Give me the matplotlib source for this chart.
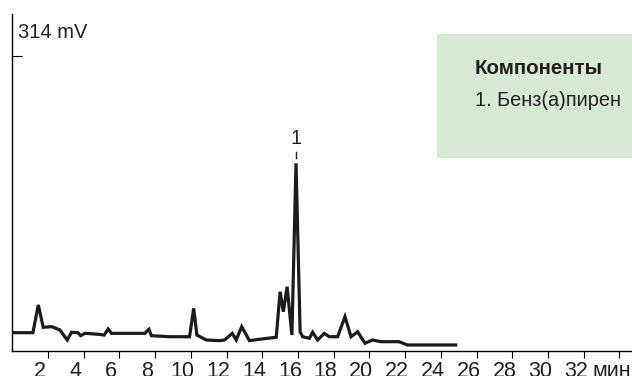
import matplotlib
matplotlib.use("Agg")
import matplotlib.pyplot as plt
from matplotlib.patches import Rectangle
from matplotlib.transforms import ScaledTranslation

plt.rcParams['font.family'] = ['Liberation Sans Narrow', 'Liberation Sans', 'DejaVu Sans']

# chromatogram trace: retention time (min) and detector signal (mV)
time_min = [0.0, 1.16, 1.46, 1.74, 2.21, 2.67, 3.08, 3.32, 3.68, 3.84, 4.07, 4.81,
            5.15, 5.37, 5.56, 6.02, 7.42, 7.66, 7.79, 8.82, 9.93, 10.16, 10.34,
            10.87, 11.61, 11.89, 12.32, 12.54, 12.85, 13.28, 13.84, 14.78, 15.00,
            15.18, 15.39, 15.66, 15.89, 16.12, 16.26, 16.64, 16.82, 17.10, 17.47,
            17.75, 18.22, 18.63, 18.97, 19.34, 19.75, 20.17, 20.64, 21.66, 22.13,
            24.83]
signal_mv = [19.5, 19.5, 49.0, 25.2, 25.9, 22.4, 11.7, 19.9, 19.5, 16.3, 18.8, 17.8,
             17.0, 23.4, 18.8, 18.8, 18.8, 23.1, 16.3, 15.2, 15.2, 45.4, 17.0,
             11.7, 11.0, 11.7, 18.8, 11.7, 25.9, 11.0, 12.5, 14.6, 63.1,
             41.8, 68.4, 17.0, 199.8, 20.5, 15.2, 13.5, 19.9, 11.7, 18.8,
             15.2, 15.2, 36.5, 15.2, 20.5, 8.2, 11.7, 9.9, 9.9, 6.4,
             6.4]

peak_labels = ["1"]
peak_times = [15.89]
peak_heights = [199.8]

x_ticks = list(range(2, 36, 2))
x_tick_labels = [str(t) for t in range(2, 34, 2)] + ["мин"]
y_ticks = [314]
y_label = "314 mV"

legend_title = "Компоненты"
legend_items = ["1. Бенз(а)пирен"]

fig = plt.figure(figsize=(6.32, 3.76), dpi=100)
ax = fig.add_axes([12.2 / 632, 25 / 376, 1 - 12.2 / 632, 337 / 376])

ax.plot(time_min, signal_mv, color="#1c1a1a", lw=2.3, solid_joinstyle="miter")

ax.set_xlim(0, 34.7)
ax.set_ylim(0, 358.7)
ax.spines['top'].set_visible(False)
ax.spines['right'].set_visible(False)
ax.spines['left'].set_linewidth(1.0)
ax.spines['bottom'].set_linewidth(1.0)

ax.set_xticks(x_ticks)
ax.set_xticklabels(x_tick_labels, fontsize=15.5, color="#231f20")
ax.tick_params(axis='x', direction='out', length=5, width=0.8, pad=2)
# labels sit a little to the left of their ticks
shift = ScaledTranslation(-8 / 100, 0, fig.dpi_scale_trans)
for lab in ax.get_xticklabels():
    lab.set_transform(lab.get_transform() + shift)

ax.set_yticks(y_ticks)
ax.set_yticklabels([])
ax.tick_params(axis='y', direction='in', length=7.5, width=0.8)

fig.text(18 / 632, 1 - 33 / 376, y_label, fontsize=14.5, va='center', ha='left',
         family=['Liberation Sans', 'DejaVu Sans'], color="#231f20")

# peak labels with a short dashed marker above each peak
for lbl, t, h in zip(peak_labels, peak_times, peak_heights):
    ax.text(t, h + 26, lbl, ha='center', va='center', fontsize=14.5, color="#231f20")
    ax.plot([t, t], [h + 6, h + 12], color="#231f20", lw=1.0)

# component box
fig.patches.append(Rectangle((437 / 632, 1 - 158 / 376), 195 / 632, 124 / 376,
                             transform=fig.transFigure, facecolor="#d7ebd4",
                             edgecolor='none', zorder=0))
fig.text(475 / 632, 1 - 69 / 376, legend_title, fontsize=14.8, fontweight='bold',
         va='center', ha='left', color="#231f20")
for i, item in enumerate(legend_items):
    fig.text(475 / 632, 1 - (100 + 30 * i) / 376, item, fontsize=14.3,
             va='center', ha='left', color="#231f20")

fig.savefig("out.png", dpi=100)
